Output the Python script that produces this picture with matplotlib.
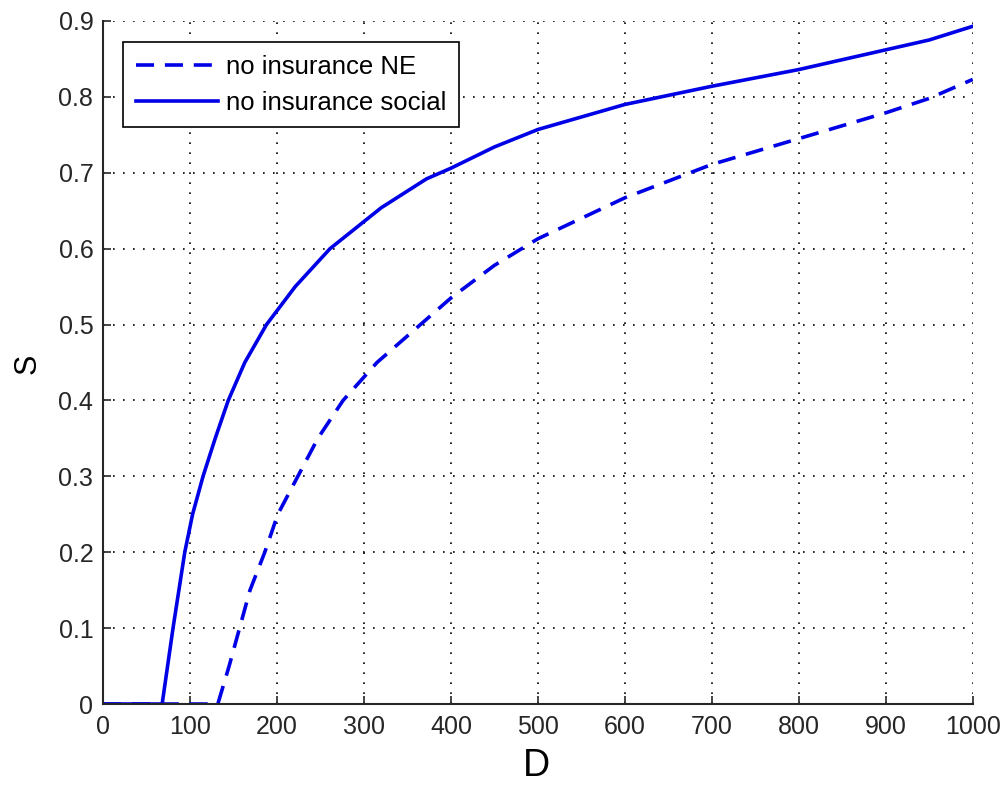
import numpy as np
import matplotlib.pyplot as plt

plt.rcParams['font.family'] = ['Liberation Sans', 'DejaVu Sans']

# no insurance social (solid)
d_social = [0, 68, 80.5, 94, 103, 115, 129, 144, 163, 188, 221, 261, 320, 372, 400, 450, 500, 600, 700, 800, 900, 950, 1000]
s_social = [0, 0, 0.1, 0.2, 0.25, 0.3, 0.35, 0.4, 0.45, 0.5, 0.55, 0.6, 0.654, 0.692, 0.706, 0.734, 0.757, 0.79, 0.814, 0.836, 0.862, 0.875, 0.893]

# no insurance NE (dashed)
d_ne = [0, 132, 145, 157, 169, 186, 201, 224, 247, 276, 315, 355, 400, 450, 500, 600, 700, 800, 900, 950, 1000]
s_ne = [0, 0, 0.05, 0.1, 0.15, 0.2, 0.25, 0.3, 0.35, 0.4, 0.45, 0.49, 0.535, 0.578, 0.613, 0.667, 0.711, 0.745, 0.779, 0.798, 0.823]

fig = plt.figure(figsize=(10.02, 7.86), dpi=100)
ax = fig.add_axes([0.1028, 0.1043, 0.868, 0.869])

ax.plot(d_ne, s_ne, '--', color='#0000e6', linewidth=2.6, dashes=(5, 3), label='no insurance NE')
ax.plot(d_social, s_social, '-', color='#0000e6', linewidth=2.6, label='no insurance social')

ax.set_xlim(0, 1000)
ax.set_ylim(0, 0.9)
ax.set_xticks(np.arange(0, 1001, 100))
ax.set_yticks(np.arange(0, 0.91, 0.1))
ax.set_yticklabels(['0'] + [f'{v:.1f}' for v in np.arange(0.1, 0.91, 0.1)])
ax.tick_params(direction='in', length=6, width=1.2, labelsize=18, colors='#262626')
ax.tick_params(axis='x', pad=8)
ax.tick_params(axis='y', pad=7)
ax.grid(True, linestyle=(0, (1, 5)), color='black', linewidth=1.2)
ax.spines['top'].set_visible(False)
ax.spines['right'].set_visible(False)
for s in ['left', 'bottom']:
    ax.spines[s].set_linewidth(1.5)
    ax.spines[s].set_color('#262626')

ax.set_xlabel('D', fontsize=27, va='center')
ax.xaxis.set_label_coords(0.498, -0.091)
ax.set_ylabel('S', fontsize=22, va='center')
ax.yaxis.set_label_coords(-0.087, 0.498)

leg = ax.legend(loc='upper left', bbox_to_anchor=(0.023, 0.969), fontsize=18.5,
                frameon=True, fancybox=False, edgecolor='black', framealpha=1,
                handlelength=3.2, handletextpad=0.3, borderpad=0.5,
                labelspacing=0.45, borderaxespad=0)
leg.get_frame().set_linewidth(1.2)

plt.savefig('out.png', dpi=100)
